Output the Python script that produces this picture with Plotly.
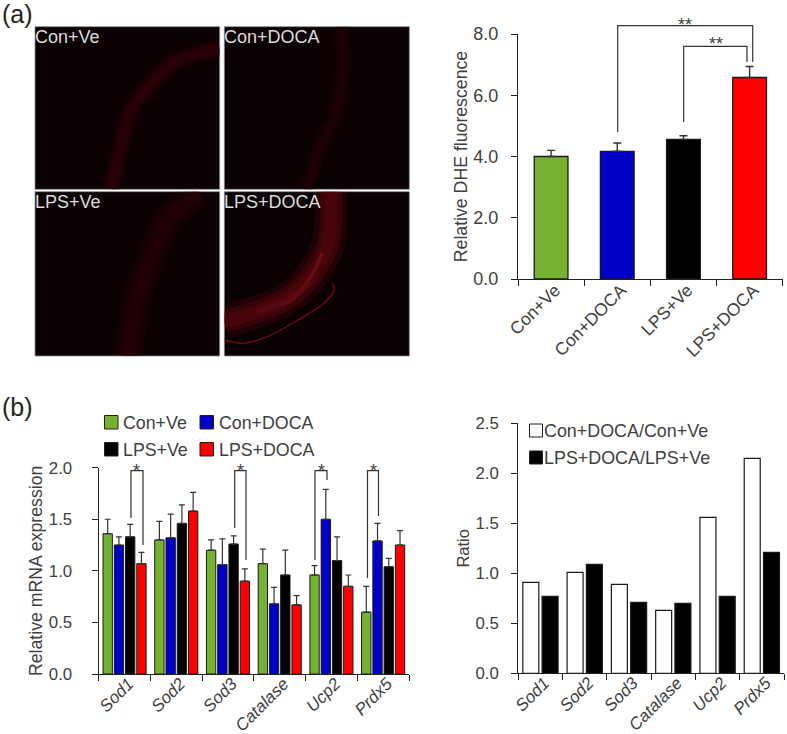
import plotly.graph_objects as go

W, H = 787, 734

groups = ["Con+Ve", "Con+DOCA", "LPS+Ve", "LPS+DOCA"]
group_colors = ["#76b232", "#0000c8", "#000000", "#ff0000"]

dhe_values = [4.0, 4.17, 4.56, 6.58]
dhe_errors = [0.2, 0.27, 0.12, 0.36]

genes = ["Sod1", "Sod2", "Sod3", "Catalase", "Ucp2", "Prdx5"]
gene_labels = ["<i>%s</i>" % g for g in genes]

mrna_con_ve = [1.36, 1.30, 1.20, 1.07, 0.96, 0.60]
mrna_con_doca = [1.25, 1.32, 1.06, 0.68, 1.50, 1.29]
mrna_lps_ve = [1.33, 1.46, 1.26, 0.96, 1.10, 1.04]
mrna_lps_doca = [1.07, 1.58, 0.90, 0.67, 0.85, 1.25]
err_con_ve = [0.14, 0.18, 0.10, 0.14, 0.09, 0.25]
err_con_doca = [0.08, 0.23, 0.25, 0.16, 0.29, 0.17]
err_lps_ve = [0.12, 0.18, 0.08, 0.24, 0.23, 0.08]
err_lps_doca = [0.11, 0.18, 0.12, 0.09, 0.11, 0.14]

ratio_con = [0.91, 1.01, 0.89, 0.63, 1.56, 2.15]
ratio_lps = [0.77, 1.09, 0.71, 0.70, 0.77, 1.21]
ratio_names = ["Con+DOCA/Con+Ve", "LPS+DOCA/LPS+Ve"]

# micrograph panels: vessel-wall centre lines and streaks
panel_names = ["Con+Ve", "Con+DOCA", "LPS+Ve", "LPS+DOCA"]
wall_x = [
    [335, 360, 395, 445, 510, 580, 659],
    [1025, 1025, 1005, 965, 920],
    [600, 510, 455, 410, 385],
    [992, 992, 982, 932, 862, 772, 672],
]
wall_y = [
    [568, 450, 330, 260, 195, 165, 145],
    [80, 250, 350, 430, 568],
    [580, 650, 770, 900, 1068],
    [570, 670, 740, 830, 895, 935, 965],
]
wall_width = [13, 12, 20, 22]
wall_rgb = ["50,3,8", "36,2,6", "42,3,7", "92,7,14"]
streak_x = [[672, 732, 802, 902, 972, 1002, 997], [842, 882, 932, 967], [772, 862, 932]]
streak_y = [[1020, 1030, 1010, 955, 910, 870, 850], [915, 895, 830, 760], [935, 900, 845]]
streak_color = ["#8c101a", "#7c0e18", "#5c0a12"]
streak_width = [1.4, 3, 6]
panel_x = [(105, 659), (673, 1228), (105, 659), (673, 1228)]
panel_y = [(568, 80), (568, 80), (1068, 575), (1068, 575)]

TXT = "#404040"
FONT = "Liberation Sans"
LINE = "#222222"


def fx(px):
    return px / W


def fy(py):
    return 1 - py / H


fig = go.Figure()
layout = dict(
    width=W, height=H, margin=dict(l=0, r=0, t=0, b=0, autoexpand=False), paper_bgcolor="white",
    plot_bgcolor="white", showlegend=False, barmode="group",
    font=dict(family=FONT, color=TXT, size=16),
)
shapes, annots = [], []

# micrograph panels
for i in range(4):
    n = i + 1
    xa, ya = "x%d" % n, "y%d" % n
    layout["xaxis%d" % n] = dict(domain=[fx(panel_x[i][0] / 3), fx(panel_x[i][1] / 3)], range=panel_x[i],
                                 visible=False, anchor=ya)
    layout["yaxis%d" % n] = dict(domain=[fy(panel_y[i][0] / 3), fy(panel_y[i][1] / 3)], range=panel_y[i],
                                 visible=False, anchor=xa)
    shapes.append(dict(type="rect", xref="paper", yref="paper", layer="below",
                       x0=fx(panel_x[i][0] / 3), x1=fx(panel_x[i][1] / 3),
                       y0=fy(panel_y[i][0] / 3), y1=fy(panel_y[i][1] / 3),
                       fillcolor="#0b0002", line=dict(color="#8a8a8a", width=0.8)))
    for mult, alpha in [(1.5, 0.25), (1.0, 0.4), (0.6, 0.45)]:
        fig.add_trace(go.Scatter(
            x=wall_x[i], y=wall_y[i], mode="lines",
            line=dict(color="rgba(%s,%s)" % (wall_rgb[i], alpha), width=wall_width[i] * mult, shape="spline"),
            hoverinfo="skip", xaxis=xa, yaxis=ya, name=panel_names[i]))
    annots.append(dict(text=panel_names[i], xref="paper", yref="paper", showarrow=False,
                       x=fx(panel_x[i][0] / 3 - 1.5), y=fy(min(panel_y[i]) / 3 - 0.5), xanchor="left", yanchor="top",
                       font=dict(size=18, color="#dcdcdc"), borderpad=0))
for sx, sy, sc, sw in zip(streak_x, streak_y, streak_color, streak_width):
    fig.add_trace(go.Scatter(x=sx, y=sy, mode="lines", line=dict(color=sc, width=sw, shape="spline"),
                             opacity=0.75, hoverinfo="skip", xaxis="x4", yaxis="y4", name="streak"))


def axis_pair(n, left, right, top, bottom, rng, dtick, cats, tick_size, label_size, title, x_standoff, y_standoff):
    layout["xaxis%d" % n] = dict(
        domain=[fx(left), fx(right)], anchor="y%d" % n, type="category", categoryorder="array",
        categoryarray=cats, tickson="boundaries", ticks="outside", ticklen=6, tickwidth=1.3,
        tickcolor=LINE, linecolor=LINE, linewidth=1.3, showline=True, showgrid=False, tickangle=-45,
        tickfont=dict(size=label_size, color=TXT), ticklabelshift=4, ticklabelstandoff=x_standoff,
    )
    layout["yaxis%d" % n] = dict(
        domain=[fy(bottom), fy(top)], anchor="x%d" % n, range=rng, dtick=dtick, tickformat=".1f",
        ticks="outside", ticklen=6, tickwidth=1.3, tickcolor=LINE, linecolor=LINE, linewidth=1.3,
        showline=True, showgrid=False, zeroline=False, tickfont=dict(size=tick_size, color=TXT),
        ticklabelstandoff=y_standoff,
        title=dict(text=title[0], font=dict(size=title[1], color=TXT), standoff=title[2]),
    )


axis_pair(5, 518, 782.7, 34, 279, [0, 8], 2, groups, 18, 17.5, ("Relative DHE fluorescence", 17.7, 1), -7, 9)
axis_pair(6, 98.7, 409, 467.7, 674, [0, 2], 0.5, gene_labels, 16.8, 17, ("Relative mRNA expression", 17.7, 1), -8, 16)
axis_pair(7, 518.3, 784, 423.3, 673.3, [0, 2.5], 0.5, gene_labels, 16.8, 17, ("Ratio", 16.5, 1), -8, 9)
layout["bargap"] = 0.13
layout["bargroupgap"] = 0.17

# (a) DHE bars: one bar per category, colours per bar
fig.add_trace(go.Bar(
    x=groups, y=dhe_values, marker=dict(color=group_colors, line=dict(color="#1a1a1a", width=1.3)),
    width=0.51, offsetgroup="dhe", xaxis="x5", yaxis="y5", name="DHE",
    error_y=dict(type="data", symmetric=False, array=dhe_errors, arrayminus=[0] * 4, color="#333333",
                 thickness=1.4, width=4),
))

# (b) mRNA bars
mrna = [mrna_con_ve, mrna_con_doca, mrna_lps_ve, mrna_lps_doca]
errs = [err_con_ve, err_con_doca, err_lps_ve, err_lps_doca]
for g, vals, e, c in zip(groups, mrna, errs, group_colors):
    fig.add_trace(go.Bar(
        x=gene_labels, y=vals, name=g, marker=dict(color=c, line=dict(color="#1a1a1a", width=1)),
        xaxis="x6", yaxis="y6",
        error_y=dict(type="data", symmetric=False, array=e, arrayminus=[0] * 6, color="#333333",
                     thickness=1.2, width=3),
    ))

# (b) ratio bars
for nm, vals, c in zip(ratio_names, [ratio_con, ratio_lps], ["#ffffff", "#000000"]):
    fig.add_trace(go.Bar(
        x=gene_labels, y=vals, name=nm, marker=dict(color=c, line=dict(color="#1a1a1a", width=1.2)),
        xaxis="x7", yaxis="y7",
    ))


# significance brackets
def bracket(pts, color="#333333"):
    path = "M " + " L ".join("%.5f %.5f" % (fx(a), fy(b)) for a, b in pts)
    shapes.append(dict(type="path", xref="paper", yref="paper", path=path,
                       line=dict(color=color, width=1.2)))


def star(text, px, py, size=18):
    annots.append(dict(text=text, xref="paper", yref="paper", x=fx(px), y=fy(py), showarrow=False,
                       xanchor="center", yanchor="middle", font=dict(size=size, color=TXT)))


bracket([(617.7, 132), (617.7, 25.7), (752.7, 25.7), (752.7, 62)])
bracket([(683.7, 122), (683.7, 46.3), (747, 46.3), (747, 62)])
star("**", 684.5, 25)
star("**", 716, 44)
bracket([(131, 518), (131, 470.7), (143, 470.7), (143, 545)])
bracket([(234.7, 528), (234.7, 470.7), (246, 470.7), (246, 560)])
bracket([(315, 560), (315, 470.7), (327, 470.7), (327, 480)])
bracket([(367.5, 578), (367.5, 470.7), (378.5, 470.7), (378.5, 516)])
for sx in [136.5, 240.5, 321, 373]:
    star("*", sx, 471)


# legends
def swatch(px, py, size, color):
    shapes.append(dict(type="rect", xref="paper", yref="paper", x0=fx(px), x1=fx(px + size),
                       y0=fy(py + size), y1=fy(py), fillcolor=color, line=dict(color="#222222", width=1)))


def legend_text(text, px, py, size):
    annots.append(dict(text=text, xref="paper", yref="paper", x=fx(px), y=fy(py), showarrow=False,
                       xanchor="left", yanchor="middle", font=dict(size=size, color=TXT)))


leg_pos = [(104.5, 422), (200, 422), (104.5, 449), (200, 449)]
for (lx, ly), g, c in zip(leg_pos, groups, group_colors):
    swatch(lx, ly - 6.5, 13.5, c)
    legend_text(g, lx + 16.5, ly + 0.5, 17.8)
swatch(529.5, 424, 13, "#ffffff")
swatch(529.5, 451, 13, "#000000")
legend_text(ratio_names[0], 541.5, 430.5, 17.9)
legend_text(ratio_names[1], 541.5, 458, 17.9)

for t, py in [("(a)", 13.5), ("(b)", 406.5)]:
    annots.append(dict(text=t, xref="paper", yref="paper", x=fx(0), y=fy(py), showarrow=False,
                       xanchor="left", yanchor="middle", font=dict(size=25, color="#222222")))

layout["shapes"] = shapes
layout["annotations"] = annots
fig.update_layout(**layout)
fig.write_html("out.html", config=dict(displayModeBar=False),
               post_script="document.body.style.margin='0';")
